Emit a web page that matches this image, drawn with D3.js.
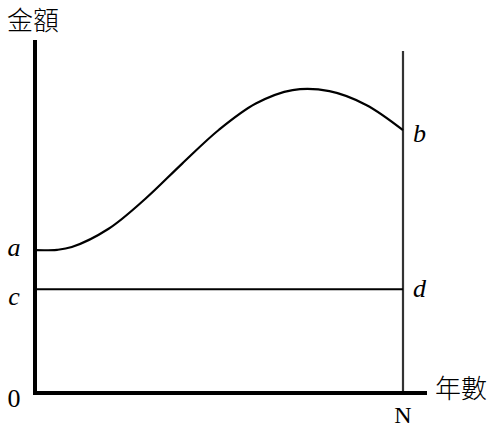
<!DOCTYPE html>
<meta charset="UTF-8"/>
<script src="https://cdnjs.cloudflare.com/ajax/libs/d3/7.8.5/d3.min.js"></script>
<style>
  body { margin: 0; background: #fff; }
  svg { display: block; }
  .serif { font-family: 'Liberation Serif', 'DejaVu Serif', serif; }
  .cjk { font-family: 'Noto Sans CJK TC', 'Noto Sans CJK SC', sans-serif; font-weight: 300; }
</style>
<svg width="495" height="428"></svg>
<script>
// years from 0 to N, amounts in arbitrary units
var years   = [0, 0.6, 1, 2, 3, 4, 5, 6, 7, 8, 9, 10];
var amounts = [41.4, 41.5, 42.3, 47.6, 56.3, 66.5, 76.3, 83.9, 87.8, 87.5, 83.5, 76.2];
var cValue = 30.1;
var leftLabels  = ["a", "c", "0"];
var rightLabels = ["b", "d"];
var yLabel = "金額", xLabel = "年數", endLabel = "N";

var svg = d3.select("svg");

var x = d3.scaleLinear().domain([0, 10]).range([35, 403]);
var y = d3.scaleLinear().domain([0, 100]).range([393, 48]);

var data = years.map(function(t, i) { return {t: t, v: amounts[i]}; });
var aValue = amounts[0], bValue = amounts[amounts.length - 1];

// vertical line at N
svg.append("line")
    .attr("x1", x(10)).attr("x2", x(10))
    .attr("y1", 51).attr("y2", y(0))
    .attr("stroke", "#333").attr("stroke-width", 2.2);

// horizontal line c -> d
svg.append("line")
    .attr("x1", x(0)).attr("x2", x(10))
    .attr("y1", y(cValue)).attr("y2", y(cValue))
    .attr("stroke", "#000").attr("stroke-width", 2);

// curve a -> b
var line = d3.line()
    .x(function(d) { return x(d.t); })
    .y(function(d) { return y(d.v); })
    .curve(d3.curveCatmullRom.alpha(0.5));

svg.append("path")
    .datum(data)
    .attr("fill", "none")
    .attr("stroke", "#000")
    .attr("stroke-width", 2.2)
    .attr("d", line);

// axes
svg.append("line")
    .attr("x1", x(0)).attr("x2", x(0))
    .attr("y1", 40).attr("y2", y(0) + 2)
    .attr("stroke", "#000").attr("stroke-width", 4);

svg.append("line")
    .attr("x1", x(0) - 2).attr("x2", 427)
    .attr("y1", y(0)).attr("y2", y(0))
    .attr("stroke", "#000").attr("stroke-width", 4);

// left labels
var leftVals = [aValue, cValue, 0], leftDy = [6, 16, 14];
svg.selectAll(".left")
  .data(leftLabels)
  .enter().append("text")
    .attr("class", "serif")
    .attr("x", 14)
    .attr("y", function(d, i) { return y(leftVals[i]) + leftDy[i]; })
    .attr("text-anchor", "middle")
    .style("font-style", function(d) { return d === "0" ? "normal" : "italic"; })
    .style("font-size", "26px")
    .text(function(d) { return d; });

// right labels
var rightVals = [bValue, cValue], rightDy = [12, 8];
svg.selectAll(".right")
  .data(rightLabels)
  .enter().append("text")
    .attr("class", "serif")
    .attr("x", 413)
    .attr("y", function(d, i) { return y(rightVals[i]) + rightDy[i]; })
    .style("font-style", "italic")
    .style("font-size", "26px")
    .text(function(d) { return d; });

svg.append("text")
    .attr("class", "serif")
    .attr("x", x(10))
    .attr("y", 423)
    .attr("text-anchor", "middle")
    .style("font-size", "24px")
    .text(endLabel);

svg.append("text")
    .attr("class", "cjk")
    .attr("x", 7)
    .attr("y", 30)
    .style("font-size", "26px")
    .text(yLabel);

svg.append("text")
    .attr("class", "cjk")
    .attr("x", 435)
    .attr("y", 398)
    .style("font-size", "26px")
    .text(xLabel);
</script>
